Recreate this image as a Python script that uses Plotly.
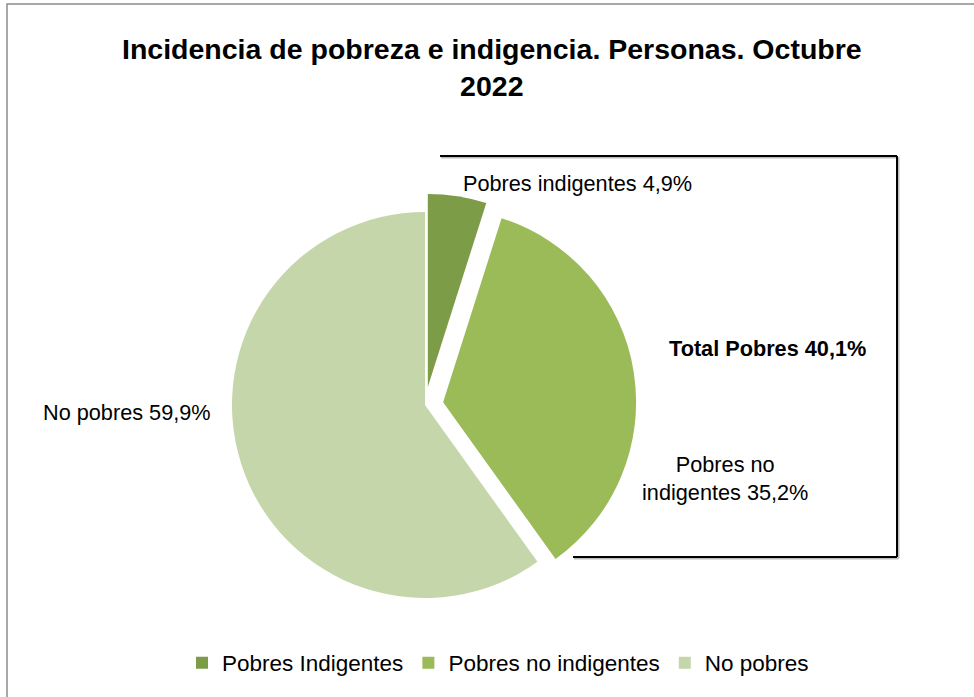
import plotly.graph_objects as go

W, H = 974, 697
labels = ["Pobres Indigentes", "Pobres no indigentes", "No pobres"]
values = [4.9, 35.2, 59.9]
colors = ["#7D9C47", "#9BBB59", "#C5D6AA"]
pulls = [0.095, 0.095, 0.0]
label_texts = ["Pobres indigentes 4,9%", "Pobres no<br>indigentes 35,2%", "No pobres 59,9%"]
total_text = "<b>Total Pobres 40,1%</b>"
title_text = "<b>Incidencia de pobreza e indigencia. Personas. Octubre<br>2022</b>"

FONT = "Liberation Sans Narrow, Arial Narrow, Arial, sans-serif"

def px(x):
    return x / W

def py(y):
    return 1 - y / H

cx, cy, r = 425, 405, 193
half = r * (1 + max(pulls))

fig = go.Figure(go.Pie(
    labels=labels, values=values, sort=False, direction="clockwise", rotation=0,
    marker=dict(colors=colors, line=dict(width=0)),
    pull=pulls, textinfo="none", hoverinfo="label+percent",
    domain=dict(x=[px(cx - half), px(cx + half)], y=[py(cy + half), py(cy - half)]),
))

annots = [
    dict(text=title_text, x=px(492), y=py(68), xanchor="center", yanchor="middle",
         font=dict(size=28.5, color="black", family=FONT), align="center"),
    dict(text=label_texts[0], x=px(461), y=py(183), xanchor="left", yanchor="middle",
         font=dict(size=21.7, color="black", family=FONT)),
    dict(text=label_texts[1], x=px(725), y=py(478), xanchor="center", yanchor="middle",
         font=dict(size=21.7, color="black", family=FONT), align="center"),
    dict(text=label_texts[2], x=px(41), y=py(412), xanchor="left", yanchor="middle",
         font=dict(size=21.7, color="black", family=FONT)),
    dict(text=total_text, x=px(667), y=py(348), xanchor="left", yanchor="middle",
         font=dict(size=21.7, color="black", family=FONT)),
]
for a in annots:
    a.update(xref="paper", yref="paper", showarrow=False)

shapes = [
    # outer chart border
    dict(type="rect", x0=px(7), x1=px(990), y0=py(710), y1=py(4),
         line=dict(color="#8C8C8C", width=1.5)),
    # bracket shadow
    dict(type="line", x0=px(441), x1=px(898.5), y0=py(157.5), y1=py(157.5), line=dict(color="#BBBBBB", width=2)),
    dict(type="line", x0=px(898.5), x1=px(898.5), y0=py(157.5), y1=py(558.5), line=dict(color="#BBBBBB", width=2)),
    dict(type="line", x0=px(574), x1=px(898.5), y0=py(558.5), y1=py(558.5), line=dict(color="#BBBBBB", width=2)),
    # bracket
    dict(type="line", x0=px(440), x1=px(897), y0=py(156), y1=py(156), line=dict(color="black", width=2)),
    dict(type="line", x0=px(897), x1=px(897), y0=py(156), y1=py(557), line=dict(color="black", width=2)),
    dict(type="line", x0=px(573), x1=px(897), y0=py(557), y1=py(557), line=dict(color="black", width=2)),
]
for s in shapes:
    s.update(xref="paper", yref="paper")

fig.update_layout(
    width=W, height=H, margin=dict(l=0, r=0, t=0, b=0),
    paper_bgcolor="white", plot_bgcolor="white",
    font=dict(family=FONT, color="black"),
    showlegend=True,
    legend=dict(orientation="h", x=px(498), xanchor="center", y=py(663), yanchor="middle",
                font=dict(size=22.5, family=FONT, color="black"), itemwidth=30,
                traceorder="normal"),
    annotations=annots, shapes=shapes,
)

fig.write_html("out.html")
